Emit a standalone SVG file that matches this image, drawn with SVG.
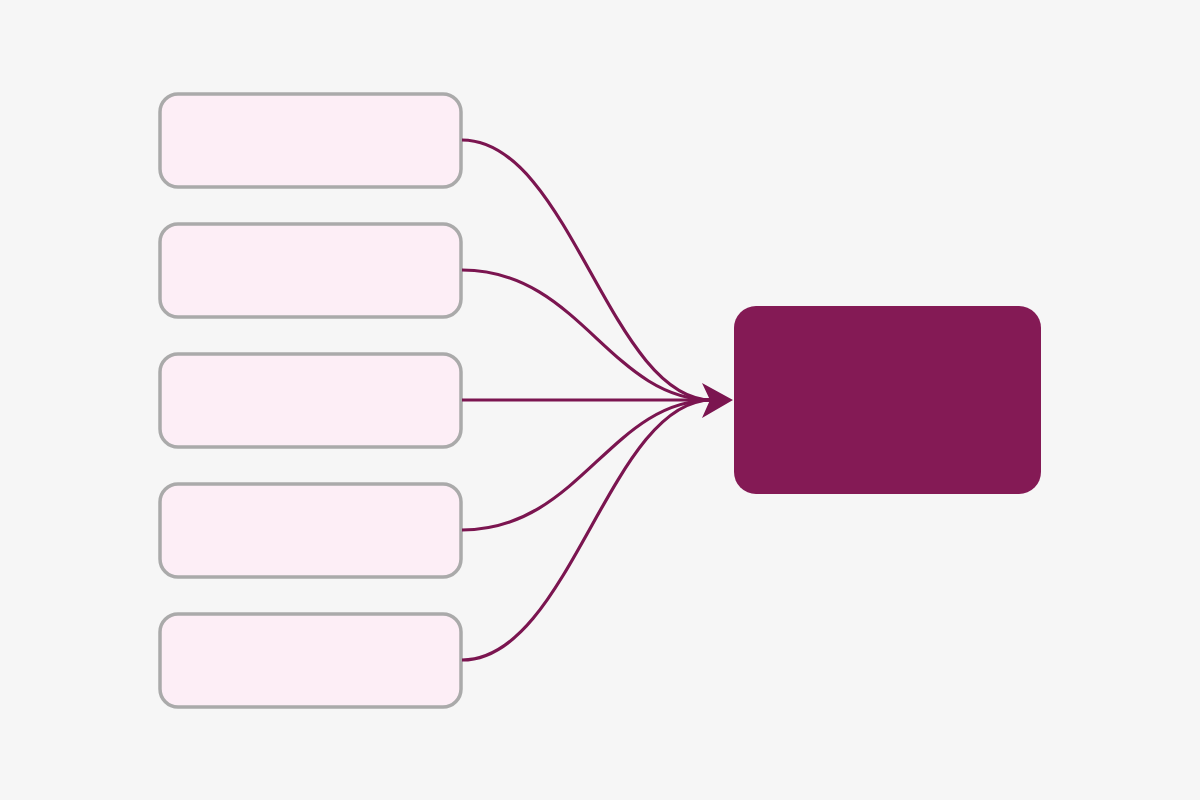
<svg xmlns="http://www.w3.org/2000/svg" width="1200" height="800" viewBox="0 0 1200 800">
<style>
.src rect{fill:#fdeef6;stroke:#aaaaaa;stroke-width:3.5}
.tgt rect{fill:#841a55}
.conn path{fill:none;stroke:#7b1550;stroke-width:3.2}
.head{fill:#7b1550}
</style>
<rect width="1200" height="800" fill="#f6f6f6"/>
<g id="node1" class="src"><rect x="160" y="94" width="301" height="93" rx="18"/></g>
<g id="node2" class="src"><rect x="160" y="224" width="301" height="93" rx="18"/></g>
<g id="node3" class="src"><rect x="160" y="354" width="301" height="93" rx="18"/></g>
<g id="node4" class="src"><rect x="160" y="484" width="301" height="93" rx="18"/></g>
<g id="node5" class="src"><rect x="160" y="614" width="301" height="93" rx="18"/></g>
<g id="target" class="tgt"><rect x="734" y="306" width="307" height="188" rx="22"/></g>
<g id="connectors" class="conn">
<path d="M462,140 C570,140 610,400 712,400"/>
<path d="M462,270 C580,270 610,400 712,400"/>
<path d="M462,400 L712,400"/>
<path d="M462,530 C580,530 610,400 712,400"/>
<path d="M462,660 C570,660 610,400 712,400"/>
<path class="head" d="M733,400 L702,383 L710,400 L702,418 Z" style="fill:#7b1550;stroke:none"/>
</g>
</svg>
